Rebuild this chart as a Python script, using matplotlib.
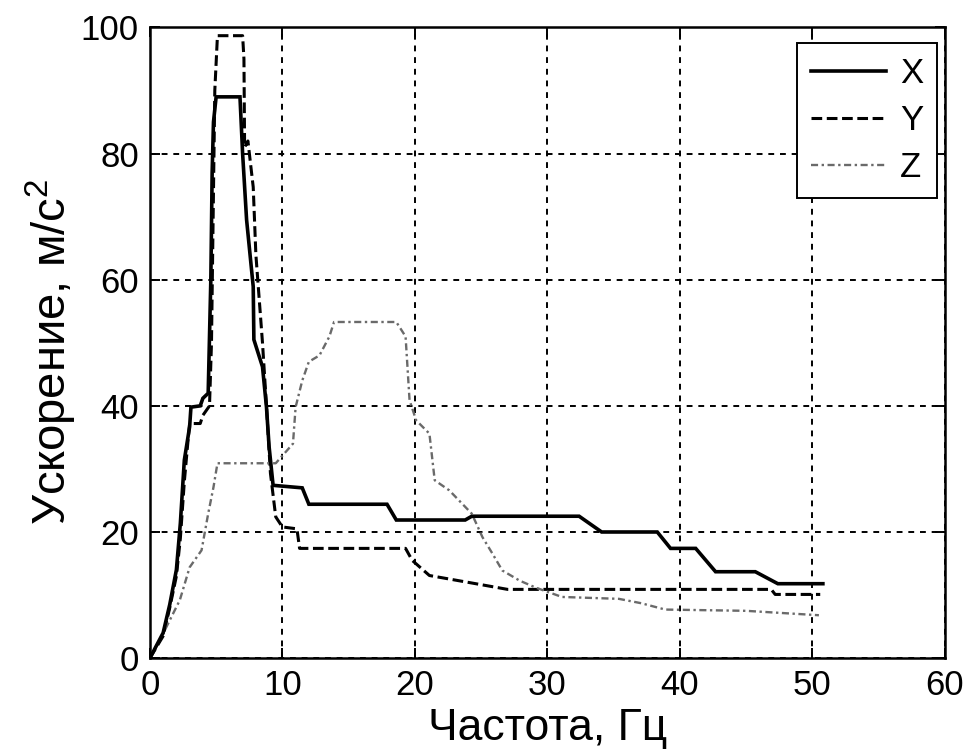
import matplotlib
matplotlib.use("Agg")
import matplotlib.pyplot as plt

plt.rcParams['font.family'] = ['Liberation Sans', 'DejaVu Sans']
plt.rcParams['mathtext.fontset'] = 'custom'
plt.rcParams['mathtext.rm'] = 'Liberation Sans'
plt.rcParams['mathtext.it'] = 'Liberation Sans'

# Data
x_freq = [0, 0.5, 1.0, 1.5, 2.0, 2.3, 2.6, 3.0, 3.1, 3.8, 4.0, 4.4, 4.6, 4.7, 4.8, 5.0,
          6.8, 7.0, 7.3, 7.8, 7.85, 8.5, 8.8, 9.0, 9.3, 11.5, 12.0, 17.9, 18.6, 23.8,
          24.3, 32.4, 34.1, 38.3, 39.3, 41.2, 42.7, 45.7, 47.4, 50.8]
x_acc = [0, 2, 4, 8.5, 14, 21.4, 31.4, 36.7, 39.8, 40, 41.2, 42, 60, 77, 85, 89,
         89, 80, 69.5, 58.9, 50.5, 46.2, 39.8, 33.5, 27.4, 27, 24.4, 24.4, 21.9, 21.9,
         22.5, 22.5, 20.0, 20.0, 17.4, 17.4, 13.7, 13.7, 11.8, 11.8]

y_freq = [0, 1.0, 1.5, 2.0, 2.3, 2.6, 2.9, 3.0, 3.8, 4.0, 4.5, 4.65, 4.9, 5.1, 7.0,
          7.1, 7.15, 7.4, 7.8, 8.0, 8.5, 8.8, 9.1, 9.5, 10.0, 11.1, 11.3, 19.3, 19.8,
          21.1, 24.6, 27.0, 46.9, 47.2, 50.6]
y_acc = [0, 3.5, 8, 13, 19, 28, 35, 37.2, 37.2, 38.5, 40, 50, 90, 98.7, 98.7,
         95, 81, 82, 74.7, 64, 50, 40, 29.3, 22.4, 20.8, 20.5, 17.4, 17.4, 15.5,
         13.1, 11.8, 10.9, 10.9, 10.1, 10.1]

z_freq = [0, 1.0, 2.26, 3.0, 3.9, 4.4, 4.8, 5.1, 9.5, 10.8, 11.0, 11.5, 12.0, 12.8,
          13.55, 13.9, 18.6, 19.3, 19.6, 20.1, 21.1, 21.5, 22.6, 24.3, 25.1, 25.85,
          26.6, 27.9, 29.1, 31.1, 35.4, 37.1, 38.9, 45.0, 50.5]
z_acc = [0, 3.9, 9.2, 14.4, 17.1, 22.9, 27.1, 30.9, 30.9, 34, 39.8, 44, 47, 48,
         51, 53.3, 53.3, 51, 40.9, 37.7, 35.6, 28.2, 26.6, 22.9, 19.2, 16.6,
         13.9, 12.3, 11.2, 9.7, 9.4, 8.7, 7.7, 7.5, 6.8]

series_labels = ['X', 'Y', 'Z']
x_ticks = [0, 10, 20, 30, 40, 50, 60]
y_ticks = [0, 20, 40, 60, 80, 100]

fig = plt.figure(figsize=(9.67, 7.53), dpi=100)
ax = fig.add_axes([0.155, 0.126, 0.822, 0.8375])

ax.plot(x_freq, x_acc, color='black', lw=2.6, linestyle='-', label=series_labels[0],
        solid_joinstyle='miter', zorder=4)
ax.plot(y_freq, y_acc, color='black', lw=2.2, linestyle=(0, (3.5, 1.5)),
        label=series_labels[1], zorder=3)
ax.plot(z_freq, z_acc, color='#6a6a6a', lw=1.7, linestyle=(0, (3, 1.5, 1, 1.5)),
        label=series_labels[2], zorder=3)

ax.set_xlim(0, 60)
ax.set_ylim(0, 100)
ax.set_xticks(x_ticks)
ax.set_yticks(y_ticks)
ax.grid(True, color='black', linestyle=(0, (3, 3)), lw=1.4)
ax.tick_params(direction='in', top=True, right=True, length=7, width=1.4,
               labelsize=25, pad=8)
for s in ax.spines.values():
    s.set_linewidth(1.8)

ax.set_xlabel('Частота, Гц', fontsize=32, labelpad=4)
ax.set_ylabel('Ускорение, м/с$^2$', fontsize=34)
ax.yaxis.set_label_coords(-0.089, 0.485)

leg = ax.legend(loc='upper right', fontsize=25, handlelength=2.15, handletextpad=0.4,
                borderpad=0.4, labelspacing=0.4, fancybox=False, framealpha=1,
                edgecolor='black', borderaxespad=0,
                bbox_to_anchor=(937 / 967, 1 - 43 / 753), bbox_transform=fig.transFigure)
leg.get_frame().set_linewidth(1.4)

fig.savefig('out.png', dpi=100)
